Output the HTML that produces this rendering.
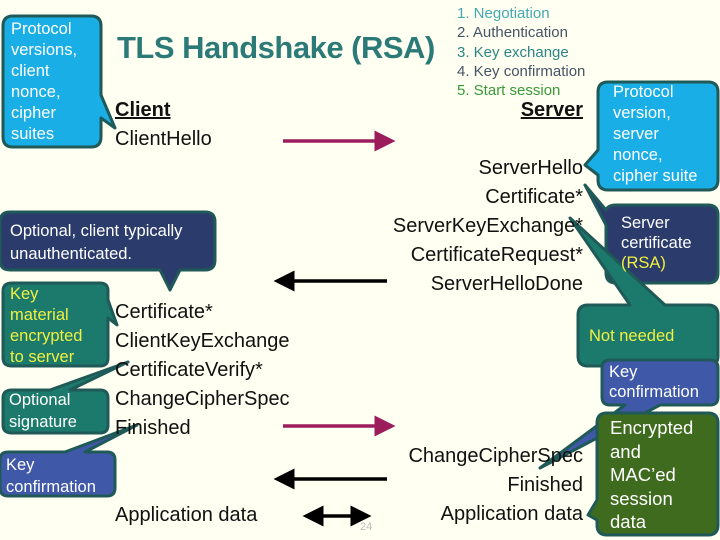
<!DOCTYPE html>
<html><head><meta charset="utf-8"><style>
body{margin:0;width:720px;height:540px;background:#fffff2;position:relative;overflow:hidden;font-family:"Liberation Sans",sans-serif}
.t{position:absolute;font-size:20px;color:#111;line-height:29px;white-space:nowrap}
.r{text-align:right}
.c{position:absolute;font-size:16.5px;line-height:21px;color:#fff;white-space:nowrap}
</style></head><body>
<svg width="720" height="540" style="position:absolute;left:0;top:0">
<defs><marker id="m1" markerWidth="6" markerHeight="6" refX="5" refY="3" orient="auto" markerUnits="strokeWidth"><path d="M0,0 L6,3 L0,6z" fill="#9c1d5c"/></marker>
<marker id="m2" markerWidth="6" markerHeight="6" refX="5" refY="3" orient="auto" markerUnits="strokeWidth"><path d="M0,0 L6,3 L0,6z" fill="#000"/></marker>
<marker id="m3" markerWidth="6" markerHeight="6" refX="1" refY="3" orient="auto" markerUnits="strokeWidth"><path d="M6,0 L0,3 L6,6z" fill="#000"/></marker></defs>
<line x1="283" y1="141" x2="392" y2="141" stroke="#9c1d5c" stroke-width="3.5" marker-end="url(#m1)"/>
<line x1="387" y1="281" x2="277" y2="281" stroke="#000" stroke-width="3.5" marker-end="url(#m2)"/>
<line x1="283" y1="426" x2="392" y2="426" stroke="#9c1d5c" stroke-width="3.5" marker-end="url(#m1)"/>
<line x1="387" y1="479" x2="277" y2="479" stroke="#000" stroke-width="3.5" marker-end="url(#m2)"/>
<line x1="306" y1="516" x2="368" y2="516" stroke="#000" stroke-width="3.5" marker-start="url(#m3)" marker-end="url(#m2)"/>
<g stroke="#1f5a58" stroke-width="3" stroke-linejoin="round">
<path d="M13,16 H91 Q101,16 101,26 V95 L115,128 L101,118 V137 Q101,147 91,147 H13 Q3,147 3,137 V26 Q3,16 13,16Z" fill="#1aaee6"/>
<path d="M10,212 H205 Q215,212 215,222 V260 Q215,270 205,270 H180 L170,290 L160,270 H10 Q0,270 0,260 V222 Q0,212 10,212Z" fill="#2b3c6c"/>
<path d="M12,283 H100 Q108,283 108,291 V300 L117,325 L108,318 V358 Q108,366 100,366 H12 Q3,366 3,358 V291 Q3,283 12,283Z" fill="#1c7a6c"/>
<path d="M12,390 H50 L128,362 L70,390 H100 Q108,390 108,398 V425 Q108,433 100,433 H12 Q3,433 3,425 V398 Q3,390 12,390Z" fill="#1c7a6c"/>
<path d="M8,452 H65 L137,425 L85,452 H107 Q115,452 115,460 V488 Q115,496 107,496 H8 Q0,496 0,488 V460 Q0,452 8,452Z" fill="#3f58a8"/>
<path d="M608,82 H708 Q718,82 718,92 V180 Q718,190 708,190 H608 Q598,190 598,180 V175 L585,165 L598,150 V92 Q598,82 608,82Z" fill="#1aaee6"/>
<path d="M616,205 H708 Q718,205 718,215 V273 Q718,283 708,283 H616 Q606,283 606,273 V225 L585,185 L606,210 Q608,205 616,205Z" fill="#2b3c6c"/>
<path d="M588,305 H630 L570,218 L665,305 H708 Q718,305 718,315 V356 Q718,366 708,366 H588 Q578,366 578,356 V315 Q578,305 588,305Z" fill="#1c7a6c"/>
<path d="M610,360 H710 Q718,360 718,368 V397 Q718,405 710,405 H660 L540,468 L625,405 H610 Q602,405 602,397 V368 Q602,360 610,360Z" fill="#3f58a8"/>
<path d="M607,413 H708 Q718,413 718,423 V525 Q718,535 708,535 H607 Q597,535 597,525 V520 L588,515 L597,500 V423 Q597,413 607,413Z" fill="#3e6b1e"/>
</g>
<text x="360" y="530" font-size="11" fill="#bbb" font-family="Liberation Sans">24</text>
</svg>
<div style="position:absolute;left:117px;top:30px;font-size:31px;font-weight:bold;color:#2b7a78;white-space:nowrap;letter-spacing:-0.5px">TLS Handshake (RSA)</div>
<div style="position:absolute;left:457px;top:4px;font-size:15px;line-height:19.3px;white-space:nowrap">
<div style="color:#45a8b0">1. Negotiation</div><div style="color:#445566">2. Authentication</div><div style="color:#2d8585">3. Key exchange</div><div style="color:#445566">4. Key confirmation</div><div style="color:#3a9a3a">5. Start session</div></div>
<div class="t" style="left:115px;top:96px;font-weight:bold;text-decoration:underline">Client</div>
<div class="t" style="left:115px;top:125px">ClientHello</div>
<div class="t" style="left:115px;top:298px">Certificate*<br>ClientKeyExchange<br>CertificateVerify*<br>ChangeCipherSpec<br>Finished</div>
<div class="t" style="left:115px;top:501px">Application data</div>
<div class="t r" style="right:137px;top:96px;font-weight:bold;text-decoration:underline">Server</div>
<div class="t r" style="right:137px;top:154px">ServerHello<br>Certificate*<br>ServerKeyExchange*<br>CertificateRequest*<br>ServerHelloDone</div>
<div class="t r" style="right:137px;top:442px">ChangeCipherSpec<br>Finished<br>Application data</div>
<div class="c" style="left:11px;top:19px">Protocol<br>versions,<br>client<br>nonce,<br>cipher<br>suites</div>
<div class="c" style="left:10px;top:220px;line-height:23px">Optional, client typically<br>unauthenticated.</div>
<div class="c" style="left:10px;top:284px;color:#f0f040">Key<br>material<br>encrypted<br>to server</div>
<div class="c" style="left:9px;top:389px;line-height:22px">Optional<br>signature</div>
<div class="c" style="left:6px;top:454px;line-height:22px">Key<br>confirmation</div>
<div class="c" style="left:613px;top:82px">Protocol<br>version,<br>server<br>nonce,<br>cipher suite</div>
<div class="c" style="left:621px;top:213px;line-height:20px">Server<br>certificate<br><span style="color:#f0f040">(RSA)</span></div>
<div class="c" style="left:589px;top:326px;color:#f0f040">Not needed</div>
<div class="c" style="left:609px;top:362px;line-height:20px">Key<br>confirmation</div>
<div class="c" style="left:610px;top:416px;font-size:18.5px;line-height:23.5px">Encrypted<br>and<br>MAC’ed<br>session<br>data</div>
</body></html>
